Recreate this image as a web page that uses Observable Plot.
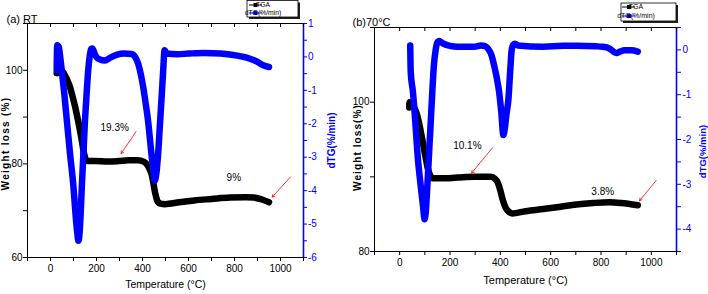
<!DOCTYPE html>
<html><head><meta charset="utf-8">
<script src="https://cdn.jsdelivr.net/npm/d3@7"></script>
<script src="https://cdn.jsdelivr.net/npm/@observablehq/plot@0.6"></script>
<style>
html,body{margin:0;padding:0;background:#fff;}
#wrap{display:flex;width:708px;height:294px;overflow:hidden;background:#fff;}
#wrap svg{overflow:visible;display:block;}
</style></head><body><div id="wrap"></div>
<script>
// ---------- Panel (a) RT ----------
const titleA = "(a) RT";
const tgaTempA = [27, 30, 45, 55, 62, 72, 85, 96, 107, 118, 128, 136, 143, 149, 153, 160, 193, 250, 294, 340, 380, 405, 418, 430, 439, 447, 453, 460, 467, 478, 497, 560, 625, 700, 780, 850, 884, 920, 950];
const tgaA = [99.4, 100.0, 100.0, 99.6, 99.0, 98.0, 96.4, 94.4, 92.2, 89.7, 87.2, 85.0, 82.9, 81.6, 81.0, 80.6, 80.6, 80.5, 80.6, 80.8, 80.8, 80.5, 80.0, 79.0, 77.9, 76.0, 74.3, 72.8, 71.9, 71.5, 71.4, 71.8, 72.2, 72.5, 72.8, 72.9, 72.8, 72.4, 71.8];
const dtgTempA = [27, 29, 36, 43, 49, 60, 71, 85, 100, 110, 117, 121, 126, 131, 136, 143, 150, 157, 164, 170, 176, 182, 195, 215, 237, 260, 290, 320, 352, 372, 381, 392, 403, 414, 424, 433, 442, 449, 453, 460, 468, 476, 484, 490, 496, 505, 550, 600, 668, 740, 812, 840, 870, 900, 925, 950];
const dtgA = [-0.4, 0.35, 0.3, -0.05, -0.4, -1.1, -1.9, -2.9, -3.9, -4.8, -5.3, -5.5, -5.3, -4.7, -3.9, -2.9, -1.9, -1.1, -0.4, 0.0, 0.24, 0.25, 0.05, -0.08, -0.11, -0.02, 0.07, 0.1, 0.09, -0.05, -0.2, -0.5, -0.9, -1.4, -1.9, -2.5, -3.1, -3.5, -3.7, -3.5, -2.9, -2.0, -1.1, -0.4, 0.2, 0.1, 0.08, 0.1, 0.12, 0.1, 0.04, 0.0, -0.06, -0.15, -0.25, -0.3];
const weightDomainA = [60, 110];
const dtgDomainA = [-6, 1];
const weightTicksA = [60, 80, 100];
const weightMinorA = [70, 90, 110];
const dtgTicksA = [-6, -5, -4, -3, -2, -1, 0, 1];
const dtgMinorA = [-5.5, -4.5, -3.5, -2.5, -1.5, -0.5, 0.5];
const noteTextA = ["19.3%", "9%"];
const noteTempA = [279, 797];
const noteWeightA = [87.8, 77.1];
const arrowFromTempA = [372, 1043];
const arrowFromWeightA = [86.9, 77.2];
const arrowToTempA = [307, 964];
const arrowToWeightA = [82.2, 72.9];

// ---------- Panel (b) 70°C ----------
const titleB = "(b)70°C";
const tgaTempB = [38, 39, 45, 59, 70, 79, 90, 99, 106, 112, 120, 132, 165, 230, 297, 362, 380, 389, 400, 408, 418, 428, 448, 500, 570, 640, 702, 770, 834, 880, 946];
const tgaB = [99.3, 100.0, 99.8, 99.2, 98.2, 96.9, 95.0, 93.3, 92.1, 91.1, 90.3, 89.8, 89.8, 89.9, 90.0, 90.0, 89.7, 89.3, 88.2, 87.1, 86.1, 85.5, 85.1, 85.4, 85.7, 86.0, 86.3, 86.5, 86.6, 86.5, 86.2];
const dtgTempB = [42, 44, 53, 62, 72, 83, 93, 99, 104, 109, 116, 123, 130, 136, 143, 151, 157, 170, 200, 230, 296, 323, 340, 352, 365, 375, 385, 395, 404, 412, 418, 424, 432, 440, 445, 452, 458, 470, 570, 650, 702, 780, 808, 834, 850, 861, 875, 893, 920, 946];
const dtgB = [0.1, -0.5, -0.95, -1.6, -2.4, -3.0, -3.5, -3.78, -3.6, -3.14, -2.4, -1.66, -0.9, -0.34, 0.0, 0.18, 0.2, 0.15, 0.09, 0.07, 0.07, 0.1, 0.08, 0.02, -0.12, -0.34, -0.6, -0.93, -1.4, -1.9, -1.75, -1.45, -1.11, -0.4, -0.01, 0.12, 0.14, 0.1, 0.07, 0.09, 0.09, 0.08, 0.07, 0.03, -0.04, -0.07, -0.04, -0.01, -0.01, -0.04];
const weightDomainB = [80, 110];
const dtgDomainB = [-4.5, 0.5];
const weightTicksB = [80, 100];
const weightMinorB = [90, 110];
const dtgTicksB = [-4, -3, -2, -1, 0];
const dtgMinorB = [-4.5, -3.5, -2.5, -1.5, -0.5, 0.5];
const noteTextB = ["10.1%", "3.8%"];
const noteTempB = [269, 807];
const noteWeightB = [94.2, 88.05];
const arrowFromTempB = [369, 1019];
const arrowFromWeightB = [93.9, 89.5];
const arrowToTempB = [286, 953];
const arrowToWeightB = [90.5, 86.8];

// ---------- shared ----------
const tempDomain = [-100, 1100];
const tempTicks = [0, 200, 400, 600, 800, 1000];
const tempMinor = [-100, 100, 300, 500, 700, 900, 1100];
const legendLabels = ["TGA", "dTG(%/min)"];
const xLabel = "Temperature (\u00B0C)";
const BLUE = "#0000ff";
const FONT = "'Liberation Sans', Arial, Helvetica, sans-serif";

function fmtMinus(v) { v = Math.round(v * 100) / 100; return v < 0 ? "-" + Math.abs(v) : String(v); }

function panel(cfg) {
  const [w0, w1] = cfg.wDomain, [d0, d1] = cfg.dDomain;
  const toW = d => w0 + (d - d0) / (d1 - d0) * (w1 - w0);
  const toD = w => d0 + (w - w0) / (w1 - w0) * (d1 - d0);
  const tga = cfg.tgaT.map((t, i) => ({t, v: cfg.tga[i]}));
  const dtg = cfg.dtgT.map((t, i) => ({t, v: toW(cfg.dtg[i])}));
  const notes = cfg.noteText.map((s, i) => ({s, t: cfg.noteT[i], v: cfg.noteW[i]}));
  const arrows = cfg.arrFromT.map((t, i) => ({x1: t, y1: cfg.arrFromW[i], x2: cfg.arrToT[i], y2: cfg.arrToW[i]}));
  const innerH = cfg.height - cfg.mt - cfg.mb;
  const svg = Plot.plot({
    width: cfg.width, height: cfg.height,
    marginLeft: cfg.ml, marginRight: cfg.mr, marginTop: cfg.mt, marginBottom: cfg.mb,
    x: {domain: tempDomain},
    y: {domain: cfg.wDomain},
    style: {fontFamily: FONT, fontSize: "10px", background: "white", color: "black"},
    marks: [
      Plot.frame({stroke: "black", strokeWidth: 1}),
      Plot.ruleX([tempDomain[1]], {stroke: BLUE, strokeWidth: 1.6}),
      Plot.axisX({ticks: tempTicks, tickSize: 4, tickPadding: 3, tickFormat: d => String(d), label: null, fontSize: 10}),
      Plot.axisX({ticks: tempMinor, tickSize: 4, tickFormat: () => "", label: null}),
      Plot.ruleX(tempTicks.concat(tempMinor), {insetBottom: innerH - 4, stroke: "black"}),
      Plot.axisY({ticks: cfg.wTicks, tickSize: 4, tickPadding: 1, tickFormat: d => String(d), label: null, fontSize: 10}),
      Plot.axisY({ticks: cfg.wMinor, tickSize: 4, tickFormat: () => "", label: null}),
      Plot.axisY({anchor: "right", ticks: cfg.dTicks.map(toW), tickFormat: v => fmtMinus(toD(v)), color: BLUE, tickSize: cfg.rTick, tickPadding: cfg.rPad, label: null, fontSize: 10}),
      Plot.axisY({anchor: "right", ticks: cfg.dMinor.map(toW), tickFormat: () => "", color: BLUE, tickSize: cfg.rTick, label: null}),
      Plot.line(tga, {x: "t", y: "v", stroke: "black", strokeWidth: 6.5, curve: "monotone-x", strokeLinejoin: "round"}),
      Plot.line(dtg, {x: "t", y: "v", stroke: BLUE, strokeWidth: 6.5, curve: "monotone-x", strokeLinejoin: "round"}),
      Plot.arrow(arrows, {x1: "x1", y1: "y1", x2: "x2", y2: "y2", stroke: "red", strokeWidth: 0.8, headLength: 5}),
      Plot.text(notes, {x: "t", y: "v", text: "s", fontSize: 10, fill: "black"}),
      Plot.text([cfg.title], {text: d => d, frameAnchor: "top-left", dx: cfg.titleDx, dy: cfg.titleDy, textAnchor: "start", fontSize: 11}),
      Plot.text([xLabel], {text: d => d, frameAnchor: "bottom", dy: cfg.xlDy, textAnchor: "middle", fontSize: cfg.xlSize}),
      Plot.text([cfg.yLabel], {text: d => d, frameAnchor: "left", dx: cfg.ylDx, dy: cfg.ylDy, rotate: -90, textAnchor: "middle", fontSize: 10, fontWeight: "bold"}),
      Plot.text([legendLabels[1]], {text: d => d, frameAnchor: "right", dx: cfg.rlDx, dy: cfg.rlDy, rotate: -90, textAnchor: "middle", fontSize: cfg.rlSize, fontWeight: "bold", fill: BLUE})
    ]
  });
  // stretch the rotated weight label along its reading direction
  d3.select(svg).selectAll("text").filter(function() { return this.textContent === cfg.yLabel; })
    .style("letter-spacing", cfg.ylSpacing + "px");
  // legend box
  const L = cfg.legend;
  const g = d3.select(svg).append("g").attr("font-family", FONT);
  g.append("rect").attr("x", L.x + 2).attr("y", L.y + 2).attr("width", L.w).attr("height", L.h).attr("fill", "#222");
  g.append("rect").attr("x", L.x).attr("y", L.y).attr("width", L.w).attr("height", L.h).attr("fill", "white").attr("stroke", "black").attr("stroke-width", 0.8);
  [["black", L.r1], [BLUE, L.r2]].forEach(([c, yy], i) => {
    g.append("line").attr("x1", L.lx1).attr("x2", L.lx2).attr("y1", yy).attr("y2", yy).attr("stroke", c).attr("stroke-width", 1);
    g.append("rect").attr("x", L.mx - 2).attr("y", yy - 2).attr("width", 4).attr("height", 4).attr("fill", c);
    g.append("text").attr("x", L.tx).attr("y", yy).attr("dy", "0.35em").attr("font-size", L.fs).attr("fill", "black").text(legendLabels[i]);
  });
  return svg;
}

const wrap = document.getElementById("wrap");
wrap.appendChild(panel({
  width: 350, height: 294, ml: 27, mr: 47, mt: 23, mb: 37,
  title: titleA, titleDx: -21, titleDy: -8,
  yLabel: "Weight loss (%)", ylDx: -21.5, ylDy: 3, ylSpacing: 1.3,
  xlDy: 30, xlSize: 10.5, rlDx: 28, rlDy: 0, rlSize: 10, rTick: 3, rPad: 1.5,
  tgaT: tgaTempA, tga: tgaA, dtgT: dtgTempA, dtg: dtgA,
  wDomain: weightDomainA, dDomain: dtgDomainA, wTicks: weightTicksA, wMinor: weightMinorA, dTicks: dtgTicksA, dMinor: dtgMinorA,
  noteText: noteTextA, noteT: noteTempA, noteW: noteWeightA,
  arrFromT: arrowFromTempA, arrFromW: arrowFromWeightA, arrToT: arrowToTempA, arrToW: arrowToWeightA,
  legend: {x: 247, y: 0.5, w: 51, h: 16.5, r1: 5, r2: 13, lx1: 249, lx2: 262, mx: 255.5, tx: 263, fs: 6.8}
}));
wrap.appendChild(panel({
  width: 358, height: 294, ml: 24, mr: 32, mt: 27, mb: 43,
  title: titleB, titleDx: -22, titleDy: -9,
  yLabel: "Weight loss(%)", ylDx: -17, ylDy: 8, ylSpacing: 1.1,
  xlDy: 32, xlSize: 11, rlDx: 26, rlDy: 12, rlSize: 9.5, rTick: 4, rPad: 2,
  tgaT: tgaTempB, tga: tgaB, dtgT: dtgTempB, dtg: dtgB,
  wDomain: weightDomainB, dDomain: dtgDomainB, wTicks: weightTicksB, wMinor: weightMinorB, dTicks: dtgTicksB, dMinor: dtgMinorB,
  noteText: noteTextB, noteT: noteTempB, noteW: noteWeightB,
  arrFromT: arrowFromTempB, arrFromW: arrowFromWeightB, arrToT: arrowToTempB, arrToW: arrowToWeightB,
  legend: {x: 271, y: 3, w: 55, h: 18, r1: 7, r2: 16, lx1: 272, lx2: 285, mx: 279, tx: 286, fs: 7}
}));
</script>
</body></html>
